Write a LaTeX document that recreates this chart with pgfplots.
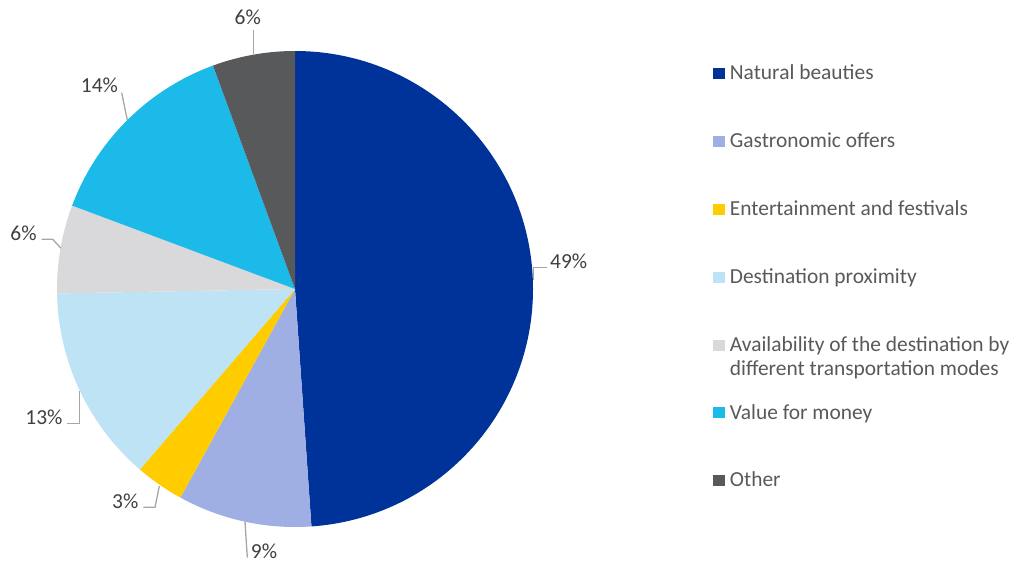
\documentclass[border=0pt]{standalone}
\usepackage{pgfplots}
\pgfplotsset{compat=1.18}
\usepackage{fontspec}
\setmainfont{Carlito}

\definecolor{cNat}{HTML}{003399}
\definecolor{cGas}{HTML}{9FAFE3}
\definecolor{cEnt}{HTML}{FFCC00}
\definecolor{cDes}{HTML}{BDE3F5}
\definecolor{cAva}{HTML}{D9D9DB}
\definecolor{cVal}{HTML}{1BBAE8}
\definecolor{cOth}{HTML}{58595B}
\definecolor{labtxt}{HTML}{404040}
\definecolor{legtxt}{HTML}{595959}
\definecolor{leader}{HTML}{A6A6A6}

\begin{document}
\begin{tikzpicture}
\begin{axis}[scale only axis, width=1018bp, height=563bp,
    xmin=0, xmax=1018, ymin=0, ymax=563, y dir=reverse,
    hide axis, clip=false]
  \path (axis cs:0,0) rectangle (axis cs:1018,563);

  % pie slices, clockwise from 12 o'clock (share in percent)
  \gdef\angA{90}
  \foreach \v/\col in {48.9/cNat, 9.1/cGas, 3.3/cEnt, 13.4/cDes, 6.0/cAva, 13.7/cVal, 5.6/cOth}{
    \pgfmathsetmacro\angB{\angA-3.6*\v}
    \edef\temp{\noexpand\fill[\col] (axis cs:295,289) -- ++(\angA:238bp)
      arc[start angle=\angA, end angle=\angB, radius=238bp] -- cycle;}
    \temp
    \xdef\angA{\angB}
  }

  % leader lines
  \begin{scope}[leader, line width=1.3bp]
    \draw (axis cs:533.3,280) -- (axis cs:533.3,267.7) -- (axis cs:546.7,267.7);
    \draw (axis cs:253.3,30) -- (axis cs:253.3,54.3);
    \draw (axis cs:121.7,92.7) -- (axis cs:127.3,120);
    \draw (axis cs:41.7,239.3) -- (axis cs:52.7,239.3) -- (axis cs:61,248.3);
    \draw (axis cs:66.7,423.3) -- (axis cs:79.3,423.3) -- (axis cs:79.3,391);
    \draw (axis cs:143.3,507.3) -- (axis cs:155,507.3) -- (axis cs:159.3,486);
    \draw (axis cs:245,521.7) -- (axis cs:247.3,557.5);
  \end{scope}

  % data labels
  \begin{scope}[every node/.style={anchor=base west, inner sep=0pt, text=labtxt,
      font=\fontsize{21.5}{25}\selectfont}]
    \node at (axis cs:550,268.5) {49\%};
    \node at (axis cs:234.5,24.3) {6\%};
    \node at (axis cs:80.7,92.7) {14\%};
    \node at (axis cs:10.2,240.7) {6\%};
    \node at (axis cs:25.2,424) {13\%};
    \node at (axis cs:112,508.3) {3\%};
    \node at (axis cs:250.7,558.5) {9\%};
  \end{scope}

  % legend
  \foreach \y/\col/\name in {80/cNat/Natural beauties, 147.8/cGas/Gastronomic offers,
      215.6/cEnt/Entertainment and festivals, 283.4/cDes/Destination proximity,
      351.2/cAva/Availability of the destination by, 419/cVal/Value for money,
      486.8/cOth/Other}{
    \edef\temp{\noexpand\fill[\col] (axis cs:713.3,\y-11.7) rectangle (axis cs:725,\y-0.7);
      \noexpand\node[anchor=base west, inner sep=0pt, text=legtxt,
      font=\noexpand\fontsize{21.5}{25}\noexpand\selectfont] at (axis cs:729.7,\y) {\name};}
    \temp
  }
  \node[anchor=base west, inner sep=0pt, text=legtxt,
    font=\fontsize{21.5}{25}\selectfont] at (axis cs:729.7,375.7) {different transportation modes};
\end{axis}
\end{tikzpicture}
\end{document}
